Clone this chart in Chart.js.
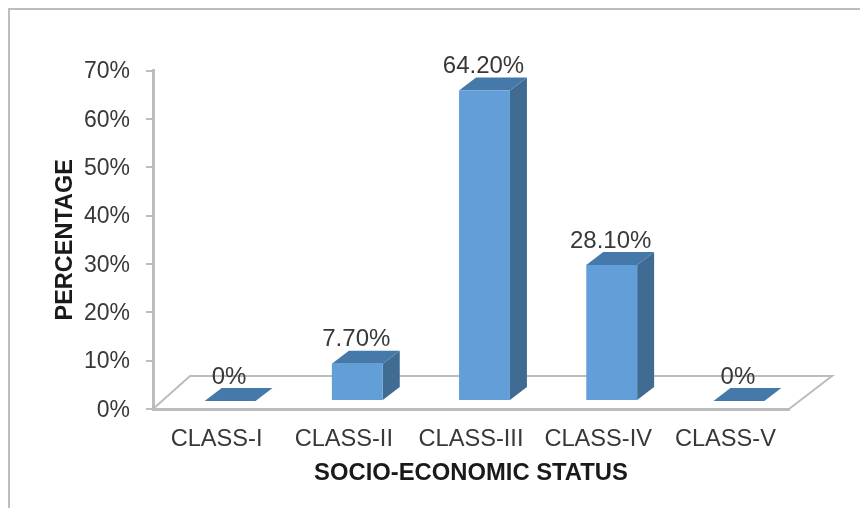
<!DOCTYPE html>
<html>
<head>
<meta charset="utf-8">
<title>Socio-economic status</title>
<script src="https://cdn.jsdelivr.net/npm/chart.js@4/dist/chart.umd.min.js"></script>
<style>
  html, body { margin: 0; padding: 0; background: #fff; overflow: hidden; }
  #wrap { position: relative; width: 860px; height: 508px; }
  #frame { position: absolute; left: 8px; top: 8px; right: -4px; bottom: -4px; border: 2px solid #bdbdbd; }
  #chart { position: absolute; left: 0; top: 0; filter: blur(0.6px); }
</style>
</head>
<body>
<div id="wrap">
  <div id="frame"></div>
  <canvas id="chart" width="860" height="508"></canvas>
</div>
<script>
const categories = ["CLASS-I", "CLASS-II", "CLASS-III", "CLASS-IV", "CLASS-V"];
const percentages = [0, 7.7, 64.2, 28.1, 0];
const valueLabels = ["0%", "7.70%", "64.20%", "28.10%", "0%"];
const yTicks = [0, 10, 20, 30, 40, 50, 60, 70];

// fake 3D depth, chart.js has no 3d bars
const floorDepth = { x: 37, y: 33 };
const barShift = { x: 13.5, y: -8 };
const barDepth = { x: 17, y: -13 };

const frontColor = "#629fd9";
const topColor = "#4579a9";
const sideColor = "#406b92";
const axisColor = "#bcbcbc";
const textColor = "#383838";

const fake3d = {
  id: "fake3d",
  beforeDraw(chart) {
    // y labels sit a bit high with a middle baseline, push them down
    const items = chart.scales.y.getLabelItems(chart.chartArea);
    if (chart.$labelsMoved !== items) {
      items.forEach((item) => {
        item.options.translation[1] += 1.5;
      });
      chart.$labelsMoved = items;
    }
  },
  beforeDatasetsDraw(chart) {
    const { ctx, chartArea: a } = chart;
    ctx.save();
    ctx.strokeStyle = axisColor;
    ctx.lineWidth = 2;
    ctx.beginPath();
    ctx.moveTo(a.left, a.bottom);
    ctx.lineTo(a.left + floorDepth.x, a.bottom - floorDepth.y);
    ctx.lineTo(a.right + floorDepth.x + 6, a.bottom - floorDepth.y);
    ctx.lineTo(a.right, a.bottom);
    ctx.stroke();
    ctx.restore();
  },
  beforeDatasetDraw(chart, args) {
    const ctx = chart.ctx;
    ctx.save();
    ctx.translate(barShift.x, barShift.y);
    args.meta.data.forEach((bar) => {
      const l = bar.x - bar.width / 2;
      const r = bar.x + bar.width / 2;
      ctx.fillStyle = sideColor;
      ctx.beginPath();
      ctx.moveTo(r, bar.y);
      ctx.lineTo(r + barDepth.x, bar.y + barDepth.y);
      ctx.lineTo(r + barDepth.x, bar.base + barDepth.y);
      ctx.lineTo(r, bar.base);
      ctx.closePath();
      ctx.fill();
      ctx.fillStyle = topColor;
      ctx.beginPath();
      ctx.moveTo(l, bar.y);
      ctx.lineTo(l + barDepth.x, bar.y + barDepth.y);
      ctx.lineTo(r + barDepth.x, bar.y + barDepth.y);
      ctx.lineTo(r, bar.y);
      ctx.closePath();
      ctx.fill();
    });
  },
  afterDatasetDraw(chart, args) {
    const ctx = chart.ctx;
    ctx.restore();
    ctx.save();
    ctx.fillStyle = textColor;
    ctx.font = "24px 'Liberation Sans'";
    ctx.textAlign = "center";
    ctx.textBaseline = "middle";
    args.meta.data.forEach((bar, i) => {
      ctx.fillText(valueLabels[i], bar.x + barShift.x - 1, bar.y + barShift.y + barDepth.y - 11);
    });
    ctx.restore();
  },
};

new Chart(document.getElementById("chart"), {
  type: "bar",
  data: {
    labels: categories,
    datasets: [
      {
        data: percentages,
        backgroundColor: frontColor,
        barPercentage: 0.4,
        categoryPercentage: 1,
      },
    ],
  },
  plugins: [fake3d],
  options: {
    responsive: false,
    animation: false,
    layout: { padding: { top: 70.5, right: 71, bottom: 0, left: 0 } },
    plugins: { legend: { display: false }, tooltip: { enabled: false } },
    scales: {
      x: {
        afterFit(scale) {
          scale.height = 99;
        },
        grid: { drawOnChartArea: false, drawTicks: false },
        border: { color: axisColor, width: 3 },
        ticks: {
          color: textColor,
          font: { family: "Liberation Sans", size: 23.6 },
          padding: 16,
          maxRotation: 0,
          autoSkip: false,
        },
        title: {
          display: true,
          text: "SOCIO-ECONOMIC STATUS",
          color: "#1a1a1a",
          font: { family: "Liberation Sans", size: 23.8, weight: "bold" },
          padding: { top: 0, bottom: 20 },
        },
      },
      y: {
        min: 0,
        max: 70,
        afterFit(scale) {
          scale.width = 153;
        },
        afterBuildTicks(scale) {
          scale.ticks = yTicks.map((value) => ({ value }));
        },
        grid: { drawOnChartArea: false, color: axisColor, tickLength: 7, lineWidth: 2 },
        border: { color: axisColor, width: 3 },
        ticks: {
          color: textColor,
          font: { family: "Liberation Sans", size: 23 },
          padding: 16,
          callback: (value) => value + "%",
        },
        title: {
          display: true,
          text: "PERCENTAGE",
          color: "#1a1a1a",
          font: { family: "Liberation Sans", size: 23.5, weight: "bold" },
          padding: { top: 51, bottom: 0 },
        },
      },
    },
  },
});
</script>
</body>
</html>
